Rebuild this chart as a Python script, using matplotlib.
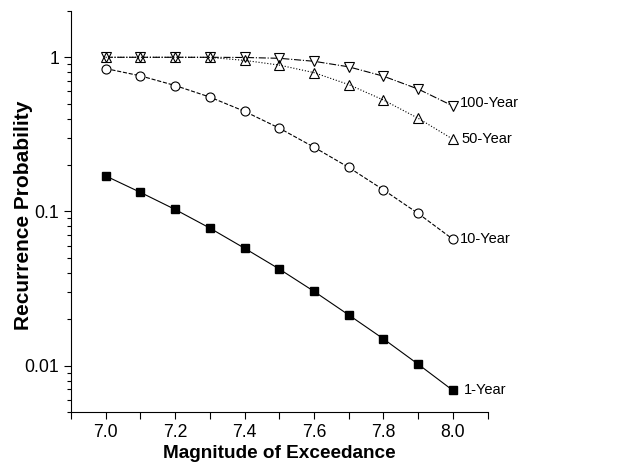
import matplotlib
matplotlib.use("Agg")
import matplotlib.pyplot as plt
from matplotlib.ticker import MultipleLocator, LogLocator, FuncFormatter, NullFormatter

plt.rcParams['font.family'] = ['Liberation Sans', 'DejaVu Sans']

magnitude = [7.0, 7.1, 7.2, 7.3, 7.4, 7.5, 7.6, 7.7, 7.8, 7.9, 8.0]
p_1yr = [0.170, 0.133, 0.103, 0.078, 0.0577, 0.0423, 0.0303, 0.0213, 0.0149, 0.0102, 0.0069]
p_10yr = [0.845, 0.758, 0.656, 0.552, 0.446, 0.347, 0.261, 0.193, 0.138, 0.097, 0.066]
p_50yr = [1.0, 1.0, 1.0, 0.998, 0.955, 0.89, 0.795, 0.665, 0.528, 0.402, 0.294]
p_100yr = [1.0, 1.0, 1.0, 1.0, 0.997, 0.985, 0.942, 0.867, 0.754, 0.622, 0.483]
series_names = ["1-Year", "10-Year", "50-Year", "100-Year"]

fig = plt.figure(figsize=(6.22, 4.73), dpi=100)
ax = fig.add_axes([0.114, 0.129, 0.670, 0.848])

ax.plot(magnitude, p_100yr, color='black', lw=0.8, ls='-.', marker='v',
        ms=7.5, mfc='white', mec='black', mew=0.8)
ax.plot(magnitude, p_50yr, color='black', lw=0.8, ls=':', marker='^',
        ms=7.5, mfc='none', mec='black', mew=0.8)
ax.plot(magnitude, p_10yr, color='black', lw=0.8, ls='--', marker='o',
        ms=6.5, mfc='white', mec='black', mew=0.8)
ax.plot(magnitude, p_1yr, color='black', lw=0.8, ls='-', marker='s',
        ms=6, mfc='black', mec='black')

# curve names next to the last point of each curve
ends = [p_1yr[-1], p_10yr[-1], p_50yr[-1], p_100yr[-1]]
offsets = [(8, 0), (5, 0), (6, 0), (5, 2)]
for name, yv, off in zip(series_names, ends, offsets):
    ax.annotate(name, (magnitude[-1], yv), xytext=off, textcoords='offset points',
                ha='left', va='center', fontsize=10.5)

ax.set_yscale('log')
ax.set_xlim(6.9, 8.1)
ax.set_ylim(0.005, 2)

ax.xaxis.set_major_locator(MultipleLocator(0.2))
ax.xaxis.set_minor_locator(MultipleLocator(0.1))
ax.xaxis.set_major_formatter(FuncFormatter(lambda v, p: f"{v:.1f}"))
ax.yaxis.set_major_locator(LogLocator(base=10, numticks=10))
ax.yaxis.set_minor_locator(LogLocator(base=10, subs=range(2, 10), numticks=20))
ax.yaxis.set_major_formatter(FuncFormatter(lambda v, p: f"{v:g}"))
ax.yaxis.set_minor_formatter(NullFormatter())

ax.tick_params(axis='both', which='major', direction='out', length=5, width=0.8,
               labelsize=12.7, color='black')
ax.tick_params(axis='x', which='minor', direction='out', length=5, width=0.8)
ax.tick_params(axis='y', which='minor', direction='out', length=3, width=0.8)

ax.spines['top'].set_visible(False)
ax.spines['right'].set_visible(False)
for s in ('left', 'bottom'):
    ax.spines[s].set_linewidth(0.8)

ax.set_xlabel("Magnitude of Exceedance", fontsize=13.7, fontweight='bold', labelpad=3)
ax.set_ylabel("Recurrence Probability", fontsize=15, fontweight='bold')
ax.yaxis.set_label_coords(-0.09, 0.49)

fig.savefig("out.png", dpi=100)
